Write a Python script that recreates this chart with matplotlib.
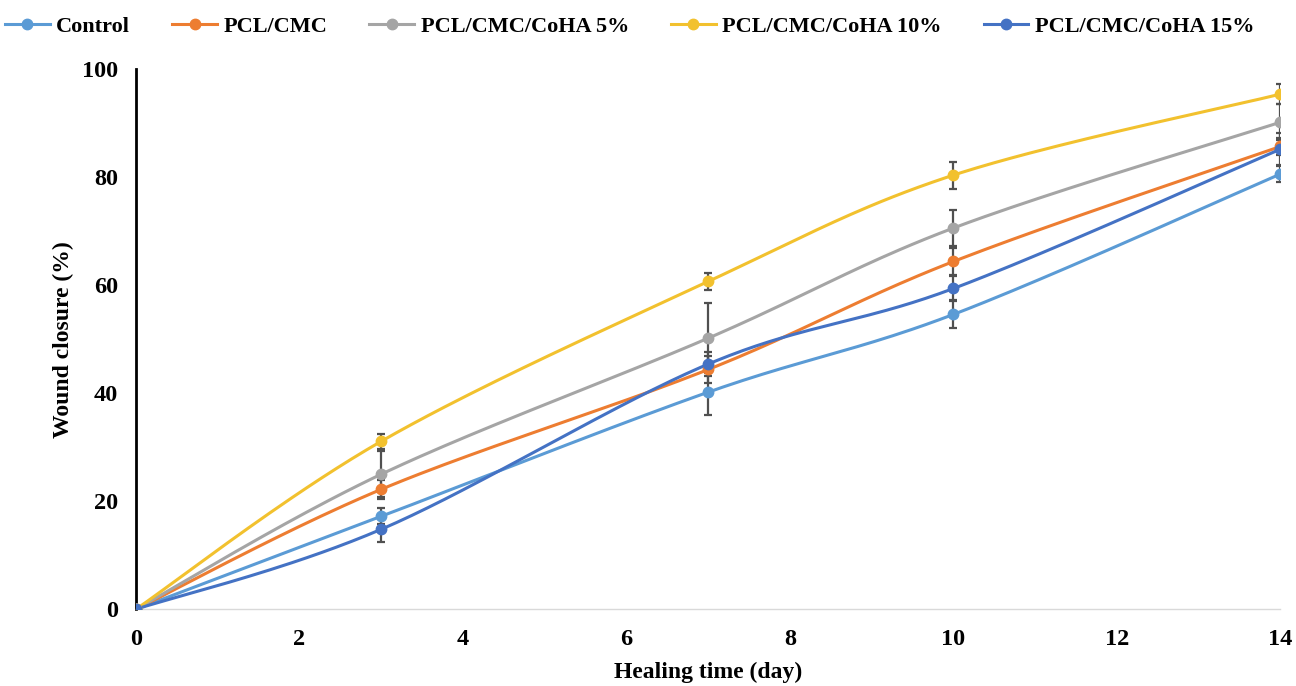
import numpy as np
import matplotlib
matplotlib.use("Agg")
from matplotlib import pyplot as plt

days = [0, 3, 7, 10, 14]
names = ["Control", "PCL/CMC", "PCL/CMC/CoHA 5%", "PCL/CMC/CoHA 10%", "PCL/CMC/CoHA 15%"]
colors = ["#5B9BD5", "#ED7D31", "#A5A5A5", "#F2C12E", "#4472C4"]

control = [0, 17.2, 40.2, 54.6, 80.6]
pcl_cmc = [0, 22.2, 44.4, 64.4, 85.7]
coha5 = [0, 25.0, 50.2, 70.6, 90.2]
coha10 = [0, 31.1, 60.7, 80.4, 95.4]
coha15 = [0, 14.8, 45.4, 59.4, 85.2]

err_control = [0, 1.5, 4.2, 2.6, 1.5]
err_pcl_cmc = [0, 1.8, 2.5, 2.5, 1.5]
err_coha5 = [0, 4.3, 6.5, 3.4, 3.3]
err_coha10 = [0, 1.4, 1.5, 2.5, 1.8]
err_coha15 = [0, 2.3, 2.2, 2.4, 3.0]

series = [control, pcl_cmc, coha5, coha10, coha15]
errors = [err_control, err_pcl_cmc, err_coha5, err_coha10, err_coha15]

plt.rcParams['font.family'] = ['Liberation Serif', 'DejaVu Serif']
plt.rcParams['font.weight'] = 'bold'


def smooth(x, y, n=40):
    # excel-like smoothed line: cubic bezier through points
    x = np.asarray(x, float)
    y = np.asarray(y, float)
    px, py = [], []
    for i in range(len(x) - 1):
        x0, y0 = (x[i - 1], y[i - 1]) if i > 0 else (x[i], y[i])
        x3, y3 = (x[i + 2], y[i + 2]) if i + 2 < len(x) else (x[i + 1], y[i + 1])
        c1x = x[i] + (x[i + 1] - x0) / 6
        c1y = y[i] + (y[i + 1] - y0) / 6
        c2x = x[i + 1] - (x3 - x[i]) / 6
        c2y = y[i + 1] - (y3 - y[i]) / 6
        t = np.linspace(0, 1, n)
        b0, b1, b2, b3 = (1 - t) ** 3, 3 * (1 - t) ** 2 * t, 3 * (1 - t) * t ** 2, t ** 3
        px.extend(b0 * x[i] + b1 * c1x + b2 * c2x + b3 * x[i + 1])
        py.extend(b0 * y[i] + b1 * c1y + b2 * c2y + b3 * y[i + 1])
    return px, py


fig = plt.figure(figsize=(12.96, 6.86), dpi=100)
ax = fig.add_axes([0.105, 0.112, 0.883, 0.787])

for name, vals, err, c in zip(names, series, errors, colors):
    sx, sy = smooth(days, vals)
    ax.errorbar(days, vals, yerr=err, fmt='none', ecolor='#505050',
                elinewidth=1.6, capsize=3.2, capthick=1.6, zorder=2)
    ax.plot(sx, sy, color=c, lw=2.2, zorder=3)
    ax.plot(days, vals, 'o', color=c, ms=7.5, zorder=4)
    ax.plot([], [], '-o', color=c, lw=2.2, ms=7.5, label=name)

ax.set_xlim(0, 14)
ax.set_ylim(0, 100)
ax.set_xticks(range(0, 15, 2))
ax.set_yticks(range(0, 101, 20))
ax.tick_params(length=0, labelsize=17.5)
ax.tick_params(axis='x', pad=14)
ax.tick_params(axis='y', pad=13)
for s in ['top', 'right']:
    ax.spines[s].set_visible(False)
ax.spines['left'].set_linewidth(2)
ax.spines['left'].set_color('black')
ax.spines['bottom'].set_color('#d9d9d9')
ax.spines['bottom'].set_linewidth(1)

ax.set_xlabel("Healing time (day)", fontsize=17, fontweight='bold', labelpad=9)
ax.set_ylabel("Wound closure (%)", fontsize=17, fontweight='bold', labelpad=6)

fig.legend(loc='upper center', bbox_to_anchor=(0.486, 1.005), ncol=5, frameon=False,
           fontsize=16, handlelength=2.0, handletextpad=0.3, columnspacing=1.9)

fig.savefig("out.png", dpi=100)
